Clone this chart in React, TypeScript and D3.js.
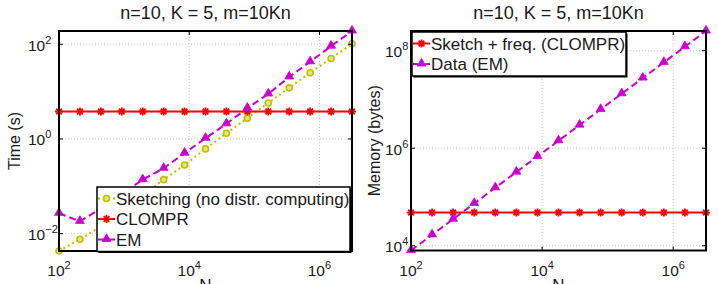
import React, { useRef, useEffect } from 'react';
import * as d3 from 'd3';

// Number of samples N (log-spaced from 1e2 to 10^6.5)
const sampleSizes = [100, 209.6, 439.4, 921.1, 1930.7, 4047, 8483, 17783, 37276, 78137, 163789, 343332, 719686, 1508591, 3162278];

// Running times in seconds
const sketchingTime = [0.0043, 0.0076, 0.0141, 0.0302, 0.0646, 0.138, 0.282, 0.617, 1.32, 2.75, 5.75, 12.0, 25.1, 50.1, 102];
const clomprTime = [3.8, 3.8, 3.8, 3.8, 3.8, 3.8, 3.8, 3.8, 3.8, 3.8, 3.8, 3.8, 3.8, 3.8, 3.8];
const emTime = [0.0269, 0.0182, 0.0339, 0.0692, 0.138, 0.24, 0.501, 1.035, 2.09, 4.47, 8.91, 20.4, 42.7, 91.2, 190.5];

// Memory footprint in bytes
const sketchMemory = [48000, 48000, 48000, 48000, 48000, 48000, 48000, 48000, 48000, 48000, 48000, 48000, 48000, 48000, 48000];
const dataMemory = [8000, 16768, 35152, 73688, 154456, 323760, 678672, 1422624, 2982072, 6250960, 13103120, 27466560, 57574880, 120687280, 252982240];

const xTickExps = [2, 4, 6];
const timeTickExps = [-2, 0, 2];
const memoryTickExps = [4, 6, 8];

const timeLabels = ['Sketching (no distr. computing)', 'CLOMPR', 'EM'];
const memoryLabels = ['Sketch + freq. (CLOMPR)', 'Data (EM)'];
const title = 'n=10, K = 5, m=10Kn';

const FONT = '"Liberation Sans", Arial, Helvetica, sans-serif';
const TEXT = '#1a1a1a';

type Marker = 'circle' | 'star' | 'triangle';
interface Series { values: number[]; color: string; dash: string | null; marker: Marker; }

const sketchStyle = { color: '#bfbf00', dash: '2,3', marker: 'circle' as Marker };
const clomprStyle = { color: '#ff0000', dash: null, marker: 'star' as Marker };
const emStyle = { color: '#cc00cc', dash: '7,4', marker: 'triangle' as Marker };

interface Panel {
  left: number; right: number; top: number; bottom: number;
  yTicks: number[]; yLabel: string; yTickX: number; yLabelX: number;
  series: Series[]; labels: string[];
  legend: { x: number; y: number; w: number; rowH: number };
}

function addMarker(g: d3.Selection<SVGGElement, unknown, null, undefined>, kind: Marker, color: string, cx: number, cy: number) {
  if (kind === 'circle') {
    g.append('circle').attr('cx', cx).attr('cy', cy).attr('r', 3)
      .attr('fill', '#e6e680').attr('stroke', color).attr('stroke-width', 1.6);
  } else if (kind === 'triangle') {
    g.append('path').attr('d', d3.symbol(d3.symbolTriangle, 34)())
      .attr('transform', `translate(${cx},${cy - 0.5})`).attr('fill', color)
      .attr('stroke', color).attr('stroke-width', 0.8);
  } else {
    g.append('path').attr('d', 'M-4,0H4M0,-4V4M-2.8,-2.8L2.8,2.8M-2.8,2.8L2.8,-2.8')
      .attr('transform', `translate(${cx},${cy})`)
      .attr('stroke', color).attr('stroke-width', 1.8).attr('fill', 'none');
  }
}

function sup(sel: d3.Selection<SVGTextElement, unknown, null, undefined>, exp: number) {
  sel.append('tspan').text('10');
  sel.append('tspan').attr('dy', -7).attr('font-size', 11).text(String(exp).replace('-', '\u2212'));
}

function drawPanel(svg: d3.Selection<SVGSVGElement, unknown, null, undefined>, p: Panel) {
  const x = d3.scaleLog().domain(d3.extent(sampleSizes) as [number, number]).range([p.left, p.right]);
  const all = p.series.flatMap(s => s.values);
  const y = d3.scaleLog().domain(d3.extent(all) as [number, number]).range([p.bottom, p.top]);
  const g = svg.append('g');

  // dotted grid at each decade
  xTickExps.forEach(e => {
    g.append('line').attr('x1', x(10 ** e)).attr('x2', x(10 ** e))
      .attr('y1', p.top).attr('y2', p.bottom)
      .attr('stroke', '#c8c8c8').attr('stroke-width', 1).attr('stroke-dasharray', '1,2');
  });
  p.yTicks.forEach(e => {
    g.append('line').attr('x1', p.left).attr('x2', p.right)
      .attr('y1', y(10 ** e)).attr('y2', y(10 ** e))
      .attr('stroke', '#c8c8c8').attr('stroke-width', 1).attr('stroke-dasharray', '1,2');
  });

  // series
  p.series.forEach(s => {
    const line = d3.line<number>().x((_, i) => x(sampleSizes[i])).y(d => y(d));
    g.append('path').attr('d', line(s.values)).attr('fill', 'none')
      .attr('stroke', s.color).attr('stroke-width', 2)
      .attr('stroke-dasharray', s.dash);
    s.values.forEach((v, i) => addMarker(g, s.marker, s.color, x(sampleSizes[i]), y(v)));
  });

  // axes box and inward ticks
  g.append('rect').attr('x', p.left).attr('y', p.top)
    .attr('width', p.right - p.left).attr('height', p.bottom - p.top)
    .attr('fill', 'none').attr('stroke', '#000').attr('stroke-width', 2);
  xTickExps.forEach(e => {
    const xx = x(10 ** e);
    g.append('line').attr('x1', xx).attr('x2', xx).attr('y1', p.bottom).attr('y2', p.bottom - 4).attr('stroke', '#000');
    g.append('line').attr('x1', xx).attr('x2', xx).attr('y1', p.top).attr('y2', p.top + 4).attr('stroke', '#000');
    const t = g.append('text').attr('x', xx).attr('y', p.bottom + 25)
      .attr('text-anchor', 'middle').attr('font-family', FONT).attr('font-size', 15.5).attr('fill', TEXT);
    sup(t, e);
  });
  p.yTicks.forEach(e => {
    const yy = y(10 ** e);
    g.append('line').attr('x1', p.left).attr('x2', p.left + 4).attr('y1', yy).attr('y2', yy).attr('stroke', '#000');
    g.append('line').attr('x1', p.right).attr('x2', p.right - 4).attr('y1', yy).attr('y2', yy).attr('stroke', '#000');
    const t = g.append('text').attr('x', p.yTickX).attr('y', yy + 6.5)
      .attr('font-family', FONT).attr('font-size', 15.5).attr('fill', TEXT);
    sup(t, e);
  });

  const cx = (p.left + p.right) / 2;
  g.append('text').attr('x', cx).attr('y', 19).attr('text-anchor', 'middle')
    .attr('font-family', FONT).attr('font-size', 18).attr('fill', TEXT).text(title);
  // x label sits partly below the bottom edge
  g.append('text').attr('x', cx).attr('y', 291).attr('text-anchor', 'middle')
    .attr('font-family', FONT).attr('font-size', 17).attr('fill', TEXT).text('N');
  g.append('text').attr('transform', `translate(${p.yLabelX},${(p.top + p.bottom) / 2}) rotate(-90)`)
    .attr('text-anchor', 'middle').attr('font-family', FONT).attr('font-size', 16).attr('fill', TEXT)
    .text(p.yLabel);

  // legend
  const L = p.legend;
  const h = L.rowH * p.labels.length + 3;
  g.append('rect').attr('x', L.x + 1.5).attr('y', L.y + 1.5).attr('width', L.w).attr('height', h).attr('fill', '#000');
  g.append('rect').attr('x', L.x).attr('y', L.y).attr('width', L.w).attr('height', h)
    .attr('fill', '#fff').attr('stroke', '#000').attr('stroke-width', 1.5);
  p.labels.forEach((lab, i) => {
    const s = p.series[i];
    const ry = L.y + 11.5 + i * L.rowH;
    g.append('line').attr('x1', L.x + 1).attr('x2', L.x + 18).attr('y1', ry).attr('y2', ry)
      .attr('stroke', s.color).attr('stroke-width', 2).attr('stroke-dasharray', s.dash);
    addMarker(g, s.marker, s.color, L.x + 9.5, ry);
    g.append('text').attr('x', L.x + 19).attr('y', ry + 6)
      .attr('font-family', FONT).attr('font-size', 17).attr('fill', TEXT).text(lab);
  });
}

const App: React.FC = () => {
  const svgRef = useRef<SVGSVGElement>(null);

  useEffect(() => {
    if (!svgRef.current) return;
    const svg = d3.select(svgRef.current);
    svg.selectAll('*').remove();
    svg.append('rect').attr('width', 718).attr('height', 284).attr('fill', '#fff');

    drawPanel(svg, {
      left: 59, right: 352, top: 31, bottom: 251,
      yTicks: timeTickExps, yLabel: 'Time (s)', yTickX: 28, yLabelX: 20,
      series: [
        { values: sketchingTime, ...sketchStyle },
        { values: clomprTime, ...clomprStyle },
        { values: emTime, ...emStyle },
      ],
      labels: timeLabels,
      legend: { x: 97, y: 187, w: 253, rowH: 20.5 },
    });

    drawPanel(svg, {
      left: 411, right: 706, top: 31, bottom: 250.5,
      yTicks: memoryTickExps, yLabel: 'Memory (bytes)', yTickX: 385, yLabelX: 380,
      series: [
        { values: sketchMemory, ...clomprStyle },
        { values: dataMemory, ...emStyle },
      ],
      labels: memoryLabels,
      legend: { x: 412, y: 32, w: 214, rowH: 20.5 },
    });
  }, []);

  return (
    <svg ref={svgRef} width={718} height={284}
      style={{ position: 'absolute', left: 0, top: 0, display: 'block' }} />
  );
};

export default App;
